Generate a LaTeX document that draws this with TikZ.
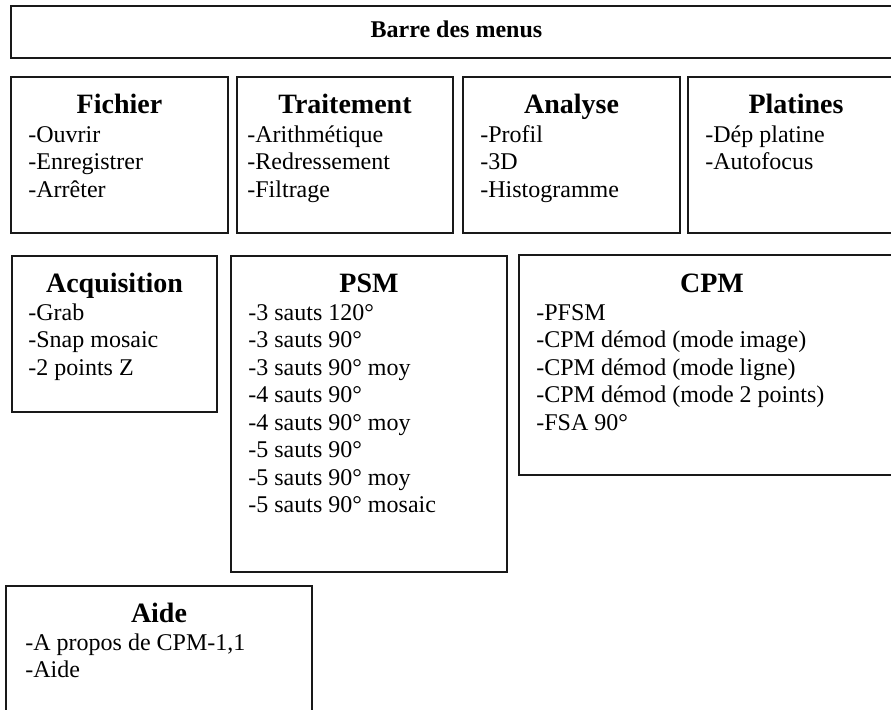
\documentclass[tikz,border=0pt]{standalone}
\usepackage{fontspec}
\setmainfont{Liberation Serif}

\tikzset{
  cadre/.style={draw=black!90,line width=0.75pt},
  titre/.style={font=\fontsize{14}{16}\selectfont\bfseries,anchor=base,inner sep=0pt},
  entree/.style={font=\fontsize{12}{14}\selectfont,anchor=base west,inner sep=0pt},
}

\begin{document}
\begin{tikzpicture}[x=0.5pt,y=-0.5pt]
\clip (0,0) rectangle (891,709);
% Barre des menus
\draw[cadre] (11,6) rectangle (902,58);
\node[titre,font=\fontsize{12}{14}\selectfont\bfseries] (barre) at (456.5,37) {Barre des menus};
% Fichier
\draw[cadre] (11,77) rectangle (228,233);
\node[titre] (fichier) at (119.5,113) {Fichier};
\foreach \t [count=\i from 0] in {-Ouvrir,-Enregistrer,-Arrêter}
  \node[entree] (fichier-\i) at (28,{142+27.5*\i}) {\t};
% Traitement
\draw[cadre] (237,77) rectangle (453,233);
\node[titre] (traitement) at (345,113) {Traitement};
\foreach \t [count=\i from 0] in {-Arithmétique,-Redressement,-Filtrage}
  \node[entree] (traitement-\i) at (247,{142+27.5*\i}) {\t};
% Analyse
\draw[cadre] (463,77) rectangle (680,233);
\node[titre] (analyse) at (571.5,113) {Analyse};
\foreach \t [count=\i from 0] in {-Profil,-3D,-Histogramme}
  \node[entree] (analyse-\i) at (480,{142+27.5*\i}) {\t};
% Platines
\draw[cadre] (688,77) rectangle (904,233);
\node[titre] (platines) at (796,113) {Platines};
\foreach \t [count=\i from 0] in {-Dép platine,-Autofocus}
  \node[entree] (platines-\i) at (705,{142+27.5*\i}) {\t};
% Acquisition
\draw[cadre] (12,256) rectangle (217,412);
\node[titre] (acquisition) at (114.5,292) {Acquisition};
\foreach \t [count=\i from 0] in {-Grab,-Snap mosaic,-2 points Z}
  \node[entree] (acquisition-\i) at (28,{320+27.5*\i}) {\t};
% PSM
\draw[cadre] (231,256) rectangle (507,572);
\node[titre] (psm) at (369,292) {PSM};
\foreach \t [count=\i from 0] in {-3 sauts 120°,-3 sauts 90°,-3 sauts 90° moy,
    -4 sauts 90°,-4 sauts 90° moy,-5 sauts 90°,-5 sauts 90° moy,-5 sauts 90° mosaic}
  \node[entree] (psm-\i) at (248,{320+27.5*\i}) {\t};
% CPM
\draw[cadre] (519,255) rectangle (905,475);
\node[titre] (cpm) at (712,292) {CPM};
\foreach \t [count=\i from 0] in {-PFSM,-CPM démod (mode image),-CPM démod (mode ligne),
    -CPM démod (mode 2 points),-FSA 90°}
  \node[entree] (cpm-\i) at (536,{320+27.5*\i}) {\t};
% Aide
\draw[cadre] (6,586) rectangle (312,720);
\node[titre] (aide) at (159,622) {Aide};
\foreach \t [count=\i from 0] in {{-A propos de CPM-1,1},-Aide}
  \node[entree] (aide-\i) at (25,{650+27.5*\i}) {\t};
\end{tikzpicture}
\end{document}
